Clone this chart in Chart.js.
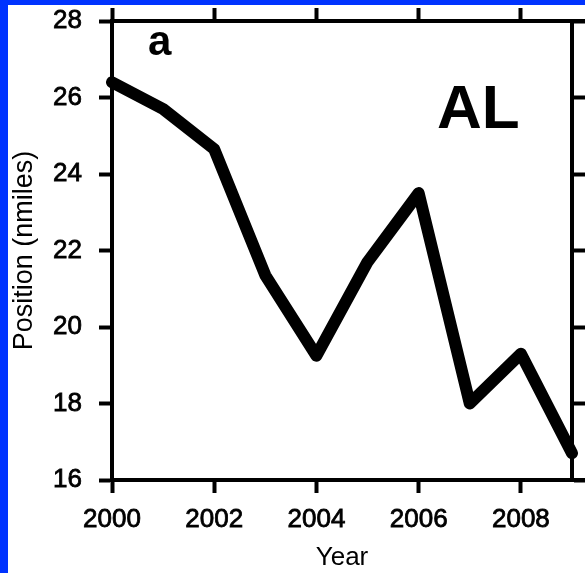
<!DOCTYPE html>
<html>
<head>
<meta charset="utf-8">
<script src="https://cdn.jsdelivr.net/npm/chart.js@4/dist/chart.umd.min.js"></script>
<style>
  html, body { margin: 0; padding: 0; }
  body { background: #0033ff; width: 585px; height: 573px; overflow: hidden; position: relative; }
  #wrap { position: absolute; left: 8px; top: 5px; width: 577px; height: 568px; background: #ffffff; }
  canvas { display: block; }
</style>
</head>
<body>
<div id="wrap"><canvas id="c" width="577" height="568"></canvas></div>
<script>
// Yearly mean position, Atlantic (AL)
const years = [2000, 2001, 2002, 2003, 2004, 2005, 2006, 2007, 2008, 2009];
const positions = [26.4, 25.7, 24.65, 21.35, 19.25, 21.7, 23.5, 18.0, 19.3, 16.7];

// Axis tick values
const xTickValues = [2000, 2002, 2004, 2006, 2008];
const yTickValues = [16, 18, 20, 22, 24, 26, 28];

const FONT = '"Liberation Sans", Arial, Helvetica, sans-serif';
const INK = '#000000';

const tickGrid = {
  display: true,
  drawOnChartArea: false,
  drawTicks: true,
  tickLength: 13,
  tickWidth: 4,
  tickColor: INK
};
const frameBorder = { display: true, width: 4, color: INK };
const setTicks = values => scale => { scale.ticks = values.map(v => ({ value: v })); };

// Fixed axis thickness, with no extra padding reserved for edge labels
const fixSize = (prop, size) => scale => {
  scale[prop] = size;
  scale.paddingTop = 0;
  scale.paddingBottom = 0;
  scale.paddingLeft = 0;
  scale.paddingRight = 0;
};

// Panel letter, region tag, and the frame's top/bottom edges running to the canvas edge
const panelDecor = {
  id: 'panelDecor',
  afterDraw(chart) {
    const { ctx, chartArea, width } = chart;
    ctx.save();
    ctx.strokeStyle = INK;
    ctx.lineWidth = 4;
    ctx.beginPath();
    ctx.moveTo(chartArea.right, chartArea.top);
    ctx.lineTo(width, chartArea.top);
    ctx.moveTo(chartArea.right, chartArea.bottom);
    ctx.lineTo(width, chartArea.bottom);
    ctx.stroke();

    ctx.fillStyle = INK;
    ctx.textBaseline = 'alphabetic';
    ctx.textAlign = 'left';
    ctx.font = 'bold 42px ' + FONT;
    ctx.fillText('a', chartArea.left + 36, chartArea.top + 34);
    ctx.font = 'bold 62px ' + FONT;
    ctx.fillText('AL', chartArea.left + 325, chartArea.top + 107);
    ctx.restore();
  }
};

new Chart(document.getElementById('c'), {
  type: 'line',
  data: {
    datasets: [{
      data: years.map((y, i) => ({ x: y, y: positions[i] })),
      borderColor: INK,
      borderWidth: 12,
      borderCapStyle: 'round',
      borderJoinStyle: 'round',
      pointRadius: 0,
      tension: 0,
      fill: false,
      clip: false
    }]
  },
  options: {
    responsive: false,
    animation: false,
    devicePixelRatio: 1,
    layout: { padding: 0, autoPadding: false },
    plugins: { legend: { display: false }, tooltip: { enabled: false } },
    scales: {
      x: {
        type: 'linear',
        position: 'bottom',
        min: 2000,
        max: 2009,
        afterBuildTicks: setTicks(xTickValues),
        afterFit: fixSize('height', 93),
        grid: tickGrid,
        border: frameBorder,
        ticks: {
          color: INK,
          textStrokeColor: INK,
          textStrokeWidth: 0.8,
          padding: 11,
          maxRotation: 0,
          font: { family: FONT, size: 26 },
          callback: v => String(v)
        },
        title: {
          display: true,
          text: 'Year',
          color: INK,
          padding: 0,
          font: { family: FONT, size: 26 }
        }
      },
      xTop: {
        type: 'linear',
        position: 'top',
        min: 2000,
        max: 2009,
        afterBuildTicks: setTicks(xTickValues),
        afterFit: fixSize('height', 16),
        grid: tickGrid,
        border: frameBorder,
        ticks: { display: false }
      },
      y: {
        type: 'linear',
        position: 'left',
        min: 16,
        max: 28,
        afterBuildTicks: setTicks(yTickValues),
        afterFit: fixSize('width', 104),
        grid: tickGrid,
        border: frameBorder,
        ticks: {
          color: INK,
          textStrokeColor: INK,
          textStrokeWidth: 0.8,
          padding: 17,
          font: { family: FONT, size: 26 },
          callback: v => String(v)
        },
        title: {
          display: true,
          text: 'Position (nmiles)',
          color: INK,
          padding: 0,
          font: { family: FONT, size: 27 }
        }
      },
      yRight: {
        type: 'linear',
        position: 'right',
        min: 16,
        max: 28,
        afterBuildTicks: setTicks(yTickValues),
        afterFit: fixSize('width', 13),
        grid: tickGrid,
        border: frameBorder,
        ticks: { display: false }
      }
    }
  },
  plugins: [panelDecor]
});
</script>
</body>
</html>
